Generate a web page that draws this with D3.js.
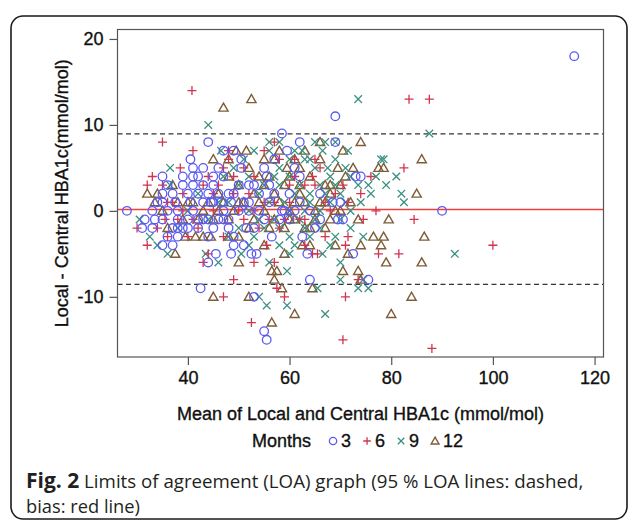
<!DOCTYPE html>
<html><head><meta charset="utf-8">
<script src="https://cdn.jsdelivr.net/npm/d3@7"></script>
<style>body{margin:0;background:#fff}svg{display:block}</style>
</head><body><svg id="c" width="630" height="522"></svg>
<script>
// Data: [mean, difference]
const months3 = [[116,18],[90,0],[28,0],[33,0],[69,11],[58.5,9],[44,8],[69,8],[62,8],[59.5,7],[50.5,6],[40.5,6],[61,5],[50.5,5],[41,5],[43,5],[35,4],[55.5,4],[62,4],[73,4],[74,4],[39,3],[41,3],[43,3],[45,3],[35,2],[37,2],[40,2],[42,2],[44,2],[46,2],[48,2],[35,1],[37.5,1],[40.5,1],[43,1],[44.5,1],[46.5,1],[48.5,1],[68.5,1],[58.5,0],[59,0],[31.5,-1],[33.5,-1],[38,-1],[40,-1],[42,-1],[44,-1],[46,-1],[48,-1],[58,-1],[69.5,-1],[70.5,-1],[31,-2],[37,-2],[38,-2],[40,-2],[42,-2],[48,-2],[51.5,-2],[53,-2],[65,-2],[38,-3],[56.5,-3],[62.5,-3],[35,-4],[37,-4],[51,-4],[45.5,-5],[48.5,-5],[52.5,-5],[53.5,-5],[63.5,-5],[72.5,-5],[44,-6],[64,-8],[75.5,-8],[42.5,-9],[53,-10],[55,-14],[55.5,-15],[36,0],[38,0],[47,0],[50,0],[52,0],[54,0],[56,1],[52,1],[54,2],[50,3],[52,3],[56,3],[60,2],[62,1],[64,0],[66,-1],[49,-3],[45,-2],[35,-1],[39,4],[41,4],[45,4],[47,4],[57,6],[49,-4],[47,7],[49,7],[55,5],[53,3],[60,-1],[61,0],[66,2],[70,1],[36,3],[34,1],[39,-2],[41,0],[43,-1],[45,1],[47,-1],[49,2],[51,1],[55,-1],[57,2],[33,-2],[36,-3],[42,4],[46,5],[44,-3]];
const months6 = [[40.8,14],[83.5,13],[87.5,13],[100,-4],[88,-16],[70.5,-15],[35,8],[57,8],[48,7],[48,6],[38.5,5],[33,4],[61,6],[64.5,4],[82.5,5],[76,4],[70.5,3],[32,3],[35,3],[74,2],[71.5,1],[77,0],[84.5,-1],[74.5,-1],[71.5,-3],[71,-4],[77.5,-5],[81.5,-5],[73.5,-8],[71,-10],[47,-10],[59,-10],[52.5,-13],[49,-8],[57.5,-9],[43,-6],[53,-6],[57,-6],[64.5,-5],[65.5,-5],[55.5,-4],[32,-4],[35.5,-1],[44,-5],[36,1],[39,0],[45,0],[50,0],[53,0],[56,-1],[60,1],[63,3],[66,5],[46,3],[42,-2],[47,-3],[52,2],[58,-2],[62,-1],[68,0],[51,5],[44,4],[40,-3],[38,-1],[34,-2],[55,7],[65,6],[67,-3],[69,2],[63,-4],[49,4],[41,7],[36,-3],[60,3],[54,-2],[57,1],[30,-2],[45,2],[47,5],[53,4],[55,1],[59,-1],[61,4],[63,-1],[67,1],[43,3],[41,-1],[37,1],[39,2],[51,-1],[49,2],[65,3],[58,6]];
const months9 = [[73.5,13],[44,10],[87.5,9],[46.5,7],[56,8],[66.5,7],[62.5,7],[56,7],[71.5,7],[78,6],[78.5,6],[36.5,5],[67.5,5],[77,4],[79,3],[81,4],[73.5,3],[75.5,3],[82,2],[82.5,1],[36.5,3],[30.5,-1],[32.5,-3],[34,-4],[36,-5],[43.5,-5],[46,-6],[50.5,-5],[56,-6],[59.5,-7],[58,-4],[72,-2],[74.5,-3],[70,-6],[70,-8],[74.5,-8],[73.5,-9],[75.5,-9],[65.5,-9],[54,-10],[55.5,-11],[59.5,-11],[67,-12],[92.5,-5],[66.5,-5],[50,3],[52,4],[54,2],[58,3],[60,4],[62,3],[64,2],[66,3],[68,4],[58,5],[60,6],[63,6],[65,5],[69,6],[48,1],[52,0],[56,1],[60,0],[64,1],[66,0],[68,1],[70,2],[72,4],[50,-2],[54,-1],[58,-2],[62,-1],[66,-2],[70,-1],[44,-1],[46,1],[42,2],[40,0],[38,-2],[48,-3],[64,-3],[68,-4],[60,-3],[72,0],[74,1],[76,2],[65,8],[67,8],[69,8],[61,7],[53,7],[47,4],[49,5],[51,6],[55,3],[57,4],[59,1],[61,2],[63,0],[65,-1],[67,2],[69,3],[71,5],[53,-3],[55,-2],[57,-1],[61,-4],[63,-2],[69,-3],[71,1],[58,8],[64,6],[60,-5],[52,-4]];
const months12 = [[47,12],[52.5,13],[74,8],[66,8],[70.5,7],[49.5,7],[51.5,7],[45,6],[55,6],[57,6],[66,6],[86,6],[59.5,5],[69.5,5],[72.5,5],[77.5,5],[78.5,5],[48,4],[71,4],[37,3],[68,3],[85,2],[32,2],[34,2],[33.5,1],[79.5,-1],[73.5,-1],[39.5,-3],[41.5,-3],[43,-3],[44.5,-3],[76.5,-3],[78.5,-3],[86.5,-3],[48,-3],[50,-3],[62.5,-4],[64,-4],[69,-4],[74,-4],[78,-4],[37.5,-5],[71.5,-5],[50,-6],[79,-6],[86,-6],[56.5,-7],[57.5,-7],[70.5,-7],[73.5,-7],[57,-8],[74,-8],[58.5,-9],[64.5,-9],[84,-10],[52,-10],[45,-10],[61,-12],[80,-12],[56.5,-13],[50,3],[53,2],[55,3],[57,2],[59,3],[61,1],[63,1],[65,0],[67,1],[69,0],[47,1],[49,0],[51,1],[53,-1],[55,0],[57,-1],[59,-2],[61,-1],[63,-2],[65,-1],[67,-2],[45,-1],[43,0],[41,1],[39,-1],[36,-2],[35,0],[46,0],[60,4],[62,5],[64,4],[52,5],[54,4],[58,7],[62,3],[68,-1],[70,0],[72,1],[67,3],[56,-2],[60,0],[46,2],[48,-1],[50,1],[52,-2],[54,1],[56,4],[58,1],[60,-1],[62,2],[64,-2],[66,1],[68,2],[70,3],[44,1],[42,-1],[40,1],[38,1],[55,-4],[59,-5],[61,6],[63,7],[48,6]];
const bias = 0.16;
const loaUpper = 8.95;
const loaLower = -8.56;
const xTicks = [40,60,80,100,120];
const yTicks = [-10,0,10,20];
const legendLabels = ["3","6","9","12"];

const svg = d3.select("#c");
const L = 117.5, R = 603.5, T = 29.5, B = 357;
const x = d3.scaleLinear().domain([26.15,121.76]).range([L,R]);
const y = d3.scaleLinear().domain([-17.0,21.1]).range([B,T]);

// outer rounded border
svg.append("rect").attr("x",11).attr("y",16).attr("width",616).attr("height",503)
  .attr("rx",12).attr("fill","none").attr("stroke","#1a1a1a").attr("stroke-width",1.6);

const colors = {"3":"#5a5af0","6":"#d2334f","9":"#3a9182","12":"#7d5c36"};

function marker(g, kind, cx, cy, s){
  const col = colors[kind];
  if(kind==="3"){
    g.append("circle").attr("cx",cx).attr("cy",cy).attr("r",4.3*s).attr("fill","none").attr("stroke",col).attr("stroke-width",1.3);
  } else if(kind==="6"){
    const p = d3.path(); const a=4.5*s;
    p.moveTo(cx-a,cy); p.lineTo(cx+a,cy); p.moveTo(cx,cy-a); p.lineTo(cx,cy+a);
    g.append("path").attr("d",p.toString()).attr("stroke",col).attr("stroke-width",1.3).attr("fill","none");
  } else if(kind==="9"){
    const p = d3.path(); const a=3.8*s;
    p.moveTo(cx-a,cy-a); p.lineTo(cx+a,cy+a); p.moveTo(cx-a,cy+a); p.lineTo(cx+a,cy-a);
    g.append("path").attr("d",p.toString()).attr("stroke",col).attr("stroke-width",1.3).attr("fill","none");
  } else {
    const p = d3.path(); const h=4.6*s, w=4.6*s;
    p.moveTo(cx,cy-h); p.lineTo(cx+w,cy+h*0.75); p.lineTo(cx-w,cy+h*0.75); p.closePath();
    g.append("path").attr("d",p.toString()).attr("stroke",col).attr("stroke-width",1.4).attr("fill","none");
  }
}

svg.append("clipPath").attr("id","pc").append("rect").attr("x",L).attr("y",T).attr("width",R-L).attr("height",B-T);
const plot = svg.append("g").attr("clip-path","url(#pc)");

// reference lines
plot.append("line").attr("x1",L).attr("x2",R).attr("y1",y(bias)).attr("y2",y(bias)).attr("stroke","#f0403c").attr("stroke-width",1.5);
[loaUpper,loaLower].forEach(v=>{
  plot.append("line").attr("x1",L).attr("x2",R).attr("y1",y(v)).attr("y2",y(v))
   .attr("stroke","#333").attr("stroke-width",1.3).attr("stroke-dasharray","5,3.5");
});

const series = [["12",months12],["9",months9],["6",months6],["3",months3]];
series.forEach(([k,data])=>{
  const g = plot.append("g");
  data.forEach(d=>marker(g,k,x(d[0]),y(d[1]),1));
});

// frame
svg.append("rect").attr("x",L).attr("y",T).attr("width",R-L).attr("height",B-T)
  .attr("fill","none").attr("stroke","#555").attr("stroke-width",1.2);

const font = "'Liberation Sans', Arial, sans-serif";
function heavy(sel){ return sel.attr("stroke","#111").attr("stroke-width",0.35); }
// axes
const xa = svg.append("g").attr("transform",`translate(0,${B})`)
  .call(d3.axisBottom(x).tickValues(xTicks).tickSize(8).tickPadding(6));
const ya = svg.append("g").attr("transform",`translate(${L},0)`)
  .call(d3.axisLeft(y).tickValues(yTicks).tickSize(8).tickPadding(6).tickFormat(d=>d<0?"-"+Math.abs(d):d));
[xa,ya].forEach(a=>{
  a.select(".domain").remove();
  a.selectAll(".tick line").attr("stroke","#555").attr("stroke-width",1.2);
  heavy(a.selectAll(".tick text").attr("font-family",font).attr("font-size",18).attr("fill","#111"));
});

// axis titles
heavy(svg.append("text").attr("x",(L+R)/2).attr("y",420).attr("text-anchor","middle")
  .attr("font-family",font).attr("font-size",18).attr("fill","#111"))
  .text("Mean of Local and Central HBA1c (mmol/mol)");
heavy(svg.append("text").attr("transform",`translate(68,${(T+B)/2}) rotate(-90)`).attr("text-anchor","middle")
  .attr("font-family",font).attr("font-size",18).attr("fill","#111"))
  .text("Local - Central HBA1c(mmol/mol)");

// legend
const lg = svg.append("g").attr("font-family",font).attr("font-size",18).attr("fill","#111");
let lx = 252; const ly = 447;
const t0 = heavy(lg.append("text").attr("x",lx).attr("y",ly)).text("Months");
lx += t0.node().getComputedTextLength() + 22;
legendLabels.forEach(k=>{
  marker(lg,k,lx,ly-6,0.85);
  lx += 8;
  const t = heavy(lg.append("text").attr("x",lx).attr("y",ly)).text(k);
  lx += t.node().getComputedTextLength() + 16;
});

// caption
const capFont = "'Open Sans', 'Noto Sans', sans-serif";
const cap = svg.append("text").attr("x",26).attr("y",488).attr("font-family",capFont).attr("font-size",18.7).attr("fill","#231f20");
cap.append("tspan").attr("font-weight","bold").attr("font-size",21).text("Fig. 2");
cap.append("tspan").text(" Limits of agreement (LOA) graph (95 % LOA lines: dashed,");
svg.append("text").attr("x",26).attr("y",513).attr("font-family",capFont).attr("font-size",18.3).attr("fill","#231f20")
  .text("bias: red line)");
</script></body></html>
